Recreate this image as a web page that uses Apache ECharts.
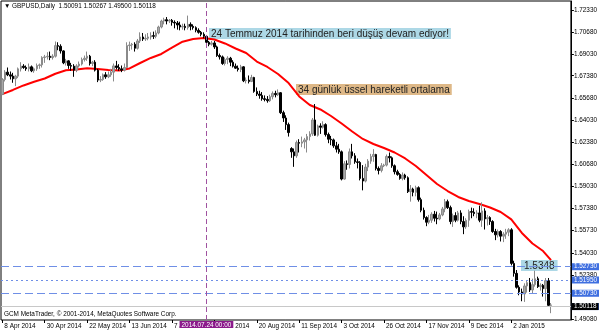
<!DOCTYPE html>
<html><head><meta charset="utf-8">
<script src="https://cdn.jsdelivr.net/npm/echarts@6/dist/echarts.min.js"></script>
<style>html,body{margin:0;padding:0;background:#fff}#c{width:600px;height:333px}</style>
</head><body><div id="c"></div>
<script>
const dates = ['2014.04.08','2014.04.09','2014.04.10','2014.04.11','2014.04.14','2014.04.15','2014.04.16','2014.04.17','2014.04.18','2014.04.21','2014.04.22','2014.04.23','2014.04.24','2014.04.25','2014.04.28','2014.04.29','2014.04.30',
'2014.05.01','2014.05.02','2014.05.05','2014.05.06','2014.05.07','2014.05.08','2014.05.09','2014.05.12','2014.05.13','2014.05.14','2014.05.15','2014.05.16','2014.05.19','2014.05.20','2014.05.21','2014.05.22','2014.05.23','2014.05.26','2014.05.27','2014.05.28','2014.05.29','2014.05.30',
'2014.06.02','2014.06.03','2014.06.04','2014.06.05','2014.06.06','2014.06.09','2014.06.10','2014.06.11','2014.06.12','2014.06.13','2014.06.16','2014.06.17','2014.06.18','2014.06.19','2014.06.20','2014.06.23','2014.06.24','2014.06.25','2014.06.26','2014.06.27','2014.06.30',
'2014.07.01','2014.07.02','2014.07.03','2014.07.04','2014.07.07','2014.07.08','2014.07.09','2014.07.10','2014.07.11','2014.07.14','2014.07.15','2014.07.16','2014.07.17','2014.07.18','2014.07.21','2014.07.22','2014.07.23','2014.07.24','2014.07.25','2014.07.28','2014.07.29','2014.07.30','2014.07.31',
'2014.08.01','2014.08.04','2014.08.05','2014.08.06','2014.08.07','2014.08.08','2014.08.11','2014.08.12','2014.08.13','2014.08.14','2014.08.15','2014.08.18','2014.08.19','2014.08.20','2014.08.21','2014.08.22','2014.08.25','2014.08.26','2014.08.27','2014.08.28','2014.08.29',
'2014.09.01','2014.09.02','2014.09.03','2014.09.04','2014.09.05','2014.09.08','2014.09.09','2014.09.10','2014.09.11','2014.09.12','2014.09.15','2014.09.16','2014.09.17','2014.09.18','2014.09.19','2014.09.22','2014.09.23','2014.09.24','2014.09.25','2014.09.26','2014.09.29','2014.09.30',
'2014.10.01','2014.10.02','2014.10.03','2014.10.06','2014.10.07','2014.10.08','2014.10.09','2014.10.10','2014.10.13','2014.10.14','2014.10.15','2014.10.16','2014.10.17','2014.10.20','2014.10.21','2014.10.22','2014.10.23','2014.10.24','2014.10.26','2014.10.27','2014.10.28','2014.10.29','2014.10.30','2014.10.31',
'2014.11.03','2014.11.04','2014.11.05','2014.11.06','2014.11.07','2014.11.10','2014.11.11','2014.11.12','2014.11.13','2014.11.14','2014.11.17','2014.11.18','2014.11.19','2014.11.20','2014.11.21','2014.11.24','2014.11.25','2014.11.26','2014.11.27','2014.11.28',
'2014.12.01','2014.12.02','2014.12.03','2014.12.04','2014.12.05','2014.12.08','2014.12.09','2014.12.10','2014.12.11','2014.12.12','2014.12.15','2014.12.16','2014.12.17','2014.12.18','2014.12.19','2014.12.22','2014.12.23','2014.12.24','2014.12.26','2014.12.29','2014.12.30','2014.12.31',
'2015.01.02','2015.01.05','2015.01.06','2015.01.07','2015.01.08','2015.01.09','2015.01.12','2015.01.13','2015.01.14','2015.01.15','2015.01.16','2015.01.19','2015.01.20','2015.01.21','2015.01.22','2015.01.23'];

const opens = [1.6598,1.6710,1.6765,1.6745,1.6735,1.6715,1.6735,1.6790,1.6810,1.6800,1.6790,1.6805,1.6775,1.6790,1.6815,1.6820,1.6875,
1.6880,1.6885,1.6875,1.6885,1.6965,1.6960,1.6925,1.6835,1.6850,1.6815,1.6810,1.6780,1.6812,1.6826,1.6860,1.6870,1.6885,1.6830,1.6840,1.6780,1.6705,1.6710,
1.6745,1.6730,1.6745,1.6765,1.6812,1.6800,1.6790,1.6780,1.6800,1.6965,1.6970,1.6975,1.6945,1.7000,1.7030,1.7015,1.7020,1.7030,1.7040,1.7035,1.7060,
1.7105,1.7150,1.7160,1.7150,1.7155,1.7140,1.7135,1.7120,1.7105,1.7110,1.7100,1.7125,1.7110,1.7100,1.7080,1.7065,1.7050,1.7035,1.6990,1.6975,1.6985,1.6955,1.6890,
1.6880,1.6830,1.6860,1.6870,1.6840,1.6810,1.6795,1.6785,1.6805,1.6700,1.6705,1.6695,1.6725,1.6620,1.6600,1.6590,1.6565,1.6560,1.6550,1.6580,1.6605,
1.6595,1.6610,1.6460,1.6420,1.6370,1.6190,1.6165,1.6135,1.6235,1.6230,1.6240,1.6255,1.6280,1.6300,1.6405,1.6290,1.6360,1.6350,1.6370,1.6295,1.6260,1.6255,
1.6210,1.6185,1.6165,1.5960,1.6075,1.6070,1.6165,1.6135,1.6090,1.6085,1.5965,1.5945,1.6050,1.6095,1.6130,1.6145,1.6040,1.6025,1.6060,1.6065,1.6130,1.6120,1.6060,1.6015,
1.5995,1.5965,1.5990,1.5970,1.5865,1.5885,1.5860,1.5895,1.5805,1.5725,1.5670,1.5635,1.5650,1.5695,1.5665,1.5660,1.5690,1.5735,1.5790,1.5745,
1.5640,1.5685,1.5650,1.5705,1.5640,1.5600,1.5650,1.5715,1.5710,1.5700,1.5705,1.5650,1.5720,1.5660,1.5670,1.5640,1.5565,1.5540,1.5565,1.5530,1.5545,1.5560,
1.5578,1.5325,1.5250,1.5145,1.5110,1.5095,1.5155,1.5180,1.5125,1.5165,1.5210,1.5150,1.5160,1.5135,1.5195,1.50091];

const highs = [1.6720,1.6780,1.6800,1.6770,1.6760,1.6745,1.6800,1.6840,1.6825,1.6815,1.6830,1.6815,1.6800,1.6830,1.6830,1.6885,1.6895,
1.6915,1.6920,1.6900,1.6996,1.6990,1.6975,1.6930,1.6865,1.6855,1.6835,1.6825,1.6825,1.6845,1.6875,1.6890,1.6920,1.6895,1.6850,1.6855,1.6790,1.6735,1.6755,
1.6765,1.6770,1.6790,1.6830,1.6850,1.6825,1.6815,1.6830,1.6990,1.6995,1.6985,1.6990,1.7015,1.7065,1.7060,1.7050,1.7060,1.7065,1.7070,1.7080,1.7115,
1.7160,1.7175,1.7180,1.7165,1.7165,1.7155,1.7150,1.7145,1.7130,1.7130,1.7191,1.7140,1.7125,1.7110,1.7095,1.7075,1.7065,1.7045,1.7000,1.7000,1.7000,1.6965,1.6905,
1.6890,1.6875,1.6885,1.6880,1.6855,1.6830,1.6815,1.6820,1.6810,1.6725,1.6740,1.6745,1.6730,1.6650,1.6625,1.6615,1.6590,1.6585,1.6595,1.6620,1.6625,
1.6635,1.6615,1.6475,1.6440,1.6385,1.6200,1.6190,1.6250,1.6260,1.6280,1.6270,1.6300,1.6320,1.6420,1.6525,1.6370,1.6380,1.6395,1.6380,1.6310,1.6285,1.6265,
1.6240,1.6225,1.6175,1.6095,1.6100,1.6190,1.6225,1.6155,1.6115,1.6095,1.6065,1.6075,1.6110,1.6150,1.6185,1.6150,1.6055,1.6080,1.6075,1.6145,1.6160,1.6130,1.6070,1.6030,
1.6005,1.6010,1.6000,1.5980,1.5915,1.5895,1.5910,1.5905,1.5820,1.5745,1.5680,1.5690,1.5710,1.5720,1.5715,1.5705,1.5750,1.5810,1.5805,1.5760,
1.5700,1.5710,1.5720,1.5725,1.5680,1.5665,1.5730,1.5745,1.5740,1.5725,1.5760,1.5785,1.5740,1.5690,1.5680,1.5650,1.5585,1.5580,1.5575,1.5560,1.5585,1.5590,
1.5590,1.5345,1.5275,1.5160,1.5135,1.5175,1.5200,1.5215,1.5210,1.5270,1.5225,1.5175,1.5170,1.5215,1.5215,1.50267];

const lows = [1.6592,1.6695,1.6735,1.6710,1.6685,1.6660,1.6720,1.6770,1.6790,1.6775,1.6770,1.6765,1.6760,1.6775,1.6790,1.6800,1.6835,
1.6860,1.6855,1.6860,1.6875,1.6930,1.6905,1.6825,1.6815,1.6790,1.6775,1.6730,1.6765,1.6800,1.6815,1.6845,1.6850,1.6815,1.6810,1.6770,1.6690,1.6690,1.6700,
1.6715,1.6720,1.6730,1.6695,1.6785,1.6775,1.6765,1.6770,1.6795,1.6925,1.6935,1.6920,1.6935,1.6985,1.7000,1.7000,1.7005,1.7010,1.7015,1.7020,1.7050,
1.7095,1.7125,1.7125,1.7135,1.7115,1.7095,1.7085,1.7080,1.7085,1.7080,1.7085,1.7080,1.7085,1.7065,1.7055,1.7035,1.7020,1.6985,1.6960,1.6965,1.6940,1.6880,1.6860,
1.6820,1.6815,1.6825,1.6810,1.6800,1.6790,1.6770,1.6765,1.6690,1.6680,1.6680,1.6690,1.6610,1.6585,1.6565,1.6550,1.6545,1.6535,1.6540,1.6560,1.6575,
1.6585,1.6450,1.6390,1.6330,1.6280,1.6120,1.6052,1.6120,1.6160,1.6200,1.6190,1.6160,1.6250,1.6285,1.6285,1.6280,1.6300,1.6340,1.6280,1.6230,1.6215,1.6195,
1.6160,1.6150,1.5950,1.5955,1.6030,1.6040,1.6115,1.6075,1.6040,1.5950,1.5875,1.5935,1.6020,1.6075,1.6090,1.6025,1.5995,1.6010,1.6050,1.6055,1.6085,1.6045,1.5995,1.5985,
1.5955,1.5950,1.5955,1.5855,1.5790,1.5830,1.5830,1.5790,1.5710,1.5655,1.5605,1.5620,1.5630,1.5640,1.5620,1.5650,1.5680,1.5710,1.5735,1.5620,
1.5600,1.5635,1.5640,1.5620,1.5545,1.5585,1.5600,1.5665,1.5680,1.5665,1.5635,1.5600,1.5580,1.5610,1.5615,1.5555,1.5500,1.5520,1.5490,1.5485,1.5510,1.5530,
1.5310,1.5225,1.5135,1.5085,1.5040,1.5035,1.5105,1.5110,1.5100,1.5150,1.5140,1.5120,1.5075,1.5040,1.4998,1.4950];

const closes = [1.6710,1.6765,1.6745,1.6735,1.6715,1.6735,1.6790,1.6810,1.6800,1.6790,1.6805,1.6775,1.6790,1.6815,1.6820,1.6875,1.6880,
1.6885,1.6875,1.6885,1.6965,1.6960,1.6925,1.6835,1.6850,1.6815,1.6810,1.6780,1.6812,1.6826,1.6860,1.6870,1.6885,1.6830,1.6840,1.6780,1.6705,1.6710,1.6745,
1.6730,1.6745,1.6765,1.6812,1.6800,1.6790,1.6780,1.6800,1.6965,1.6970,1.6975,1.6945,1.7000,1.7030,1.7015,1.7020,1.7030,1.7040,1.7035,1.7060,1.7105,
1.7150,1.7160,1.7150,1.7155,1.7140,1.7135,1.7120,1.7105,1.7110,1.7100,1.7125,1.7110,1.7100,1.7080,1.7065,1.7050,1.7035,1.6990,1.6975,1.6985,1.6955,1.6890,1.6880,
1.6830,1.6860,1.6870,1.6840,1.6810,1.6795,1.6785,1.6805,1.6700,1.6705,1.6695,1.6725,1.6620,1.6600,1.6590,1.6565,1.6560,1.6550,1.6580,1.6605,1.6595,
1.6610,1.6460,1.6420,1.6370,1.6310,1.6165,1.6135,1.6235,1.6230,1.6240,1.6255,1.6280,1.6300,1.6405,1.6290,1.6360,1.6350,1.6370,1.6295,1.6260,1.6255,1.6210,
1.6185,1.6165,1.5960,1.6075,1.6070,1.6165,1.6135,1.6090,1.6085,1.5965,1.5945,1.6050,1.6095,1.6130,1.6145,1.6040,1.6025,1.6060,1.6065,1.6130,1.6120,1.6060,1.6015,1.5995,
1.5965,1.5990,1.5970,1.5865,1.5885,1.5860,1.5895,1.5805,1.5725,1.5670,1.5635,1.5650,1.5695,1.5665,1.5660,1.5690,1.5735,1.5790,1.5745,1.5640,
1.5685,1.5650,1.5705,1.5640,1.5600,1.5650,1.5715,1.5710,1.5700,1.5705,1.5650,1.5720,1.5660,1.5670,1.5640,1.5565,1.5540,1.5565,1.5530,1.5545,1.5560,1.5578,
1.5325,1.5250,1.5145,1.5110,1.5095,1.5155,1.5180,1.5125,1.5165,1.5210,1.5150,1.5160,1.5135,1.5195,1.5009,1.50118];

// 34-day EMA at every 4th bar
const emaIdx  = [0,4,8,12,16,20,24,28,32,36,40,44,48,52,56,60,64,68,72,76,80,84,88,92,96,100,104,108,112,116,120,124,128,132,136,140,144,148,152,156,160,164,168,172,176,180,184,188,192,196,200,204,207];
const emaVals = [1.6600,1.6631,1.6665,1.6693,1.6717,1.6753,1.6779,1.6785,1.6794,1.6789,1.6781,1.6777,1.6793,1.6834,1.6872,1.6902,1.6949,1.6994,1.7015,1.7022,1.7011,1.6981,1.6943,1.6909,1.6845,1.6804,1.6751,1.6683,1.6582,1.6518,1.6484,1.6435,1.6378,1.6318,1.6262,1.6224,1.6194,1.6160,1.6115,1.6058,1.5991,1.5923,1.5870,1.5825,1.5795,1.5772,1.5746,1.5712,1.5656,1.5554,1.5475,1.5418,1.5350];

const yTicks = [1.72330,1.70680,1.69030,1.67380,1.65680,1.64030,1.62380,1.60680,1.59030,1.57380,1.55730,1.54030,1.52380,1.49080];
const priceLevels = [1.52730,1.51950,1.50730,1.49600];
const bidPrice = 1.50118;
const vlineDate = '2014.07.24';
const emaLabel = '1.5348';
const symbolTitle = 'GBPUSD,Daily';
const note1 = '24 Temmuz 2014 tarihinden beri düşüş devam ediyor!';
const note2 = '34 günlük üssel hareketli ortalama';
const copyright = 'GCM MetaTrader, © 2001-2014, MetaQuotes Software Corp.';

const MON = ['Jan','Feb','Mar','Apr','May','Jun','Jul','Aug','Sep','Oct','Nov','Dec'];
const fmtDate = s => { const p = s.split('.'); return (+p[2]) + ' ' + MON[+p[1]-1] + ' ' + p[0]; };
const N_PAD = 7;
const xCats = dates.concat(Array.from({length: N_PAD}, (_, k) => 'pad' + k));
const candles = dates.map((d, i) => [opens[i], closes[i], lows[i], highs[i]]);
const emaLine = xCats.map(() => null);
emaIdx.forEach((ix, k) => { emaLine[ix] = emaVals[k]; });
const showIdx = (i) => i % 16 === 0 && i < dates.length;
const last = dates.length - 1;
const FONT = 'Liberation Sans, Arial, sans-serif';
const AX = 6.4;

const chart = echarts.init(document.getElementById('c'), null, {renderer: 'canvas'});
const lvlStyles = [
  {type: [8, 4], color: '#6f8fe6'},
  {type: [2, 3], color: '#6f8fe6'},
  {type: [8, 4], color: '#6f8fe6'},
  {type: [2, 2], color: '#9fb6f0'}
];
const mlData = priceLevels.map((v, k) => ({
  yAxis: v,
  lineStyle: Object.assign({width: 1}, lvlStyles[k]),
  label: {show: true, position: 'end', distance: 1, formatter: () => v.toFixed(5),
    backgroundColor: '#3f6fe0', color: '#fff', fontSize: AX, fontFamily: FONT, padding: [1, 2, 0, 2]}
}));
mlData.push({
  yAxis: bidPrice,
  lineStyle: {type: 'solid', color: '#c8c8c8', width: 1},
  label: {show: true, position: 'end', distance: 1, formatter: () => bidPrice.toFixed(5),
    backgroundColor: '#000', color: '#fff', fontSize: AX, fontFamily: FONT, padding: [1, 2, 0, 2]}
});
mlData.push({
  xAxis: vlineDate,
  lineStyle: {type: [5, 3], color: '#a052a0', width: 1},
  label: {show: true, position: 'start', distance: 1, formatter: () => vlineDate + ' 00:00',
    backgroundColor: '#8b1a8b', color: '#fff', fontSize: AX, fontFamily: FONT, padding: [1, 2, 0, 2]}
});

chart.setOption({
  animation: false,
  backgroundColor: '#fff',
  grid: {left: 1, top: 1, width: 571, height: 319, show: true, borderColor: '#000', borderWidth: 1, backgroundColor: 'transparent'},
  xAxis: {
    type: 'category', data: xCats, boundaryGap: true,
    axisLine: {show: false},
    axisTick: {show: true, interval: showIdx, alignWithLabel: true, length: 3, lineStyle: {color: '#000'}},
    axisLabel: {interval: showIdx, formatter: fmtDate, align: 'left', fontSize: AX, color: '#000', margin: 3, fontFamily: FONT, padding: [0, 0, 0, 2]},
    splitLine: {show: false}
  },
  yAxis: {
    type: 'value', position: 'right', min: 1.48987, max: 1.73008, scale: true,
    axisLine: {show: true, lineStyle: {color: '#000'}},
    axisTick: {show: true, customValues: yTicks, length: 3, lineStyle: {color: '#000'}},
    axisLabel: {customValues: yTicks, formatter: v => v.toFixed(5), fontSize: AX, color: '#000', margin: 3, fontFamily: FONT},
    splitLine: {show: false}
  },
  series: [
    {
      type: 'line', data: emaLine, connectNulls: true, showSymbol: false, symbol: 'none',
      lineStyle: {color: '#ff0000', width: 2}, z: 2, silent: true
    },
    {
      type: 'candlestick', data: candles, barWidth: 2, z: 3,
      itemStyle: {color: '#a8a8a8', color0: '#000000', borderColor: '#8a8a8a', borderColor0: '#000000', borderWidth: 1},
      markLine: {symbol: ['none', 'none'], silent: true, animation: false, data: mlData}
    }
  ],
  graphic: [
    {type: 'text', left: 4, top: 3, style: {text: '▼ ' + symbolTitle + '  ' + [opens[last], highs[last], lows[last], closes[last]].map(v => v.toFixed(5)).join(' '), fontSize: AX, fontFamily: FONT, fill: '#000'}},
    {type: 'text', left: 209, top: 28, style: {text: note1, fontSize: 10, fontFamily: FONT, fill: '#222', backgroundColor: '#add8e6', padding: [1, 2, 0, 2]}},
    {type: 'text', left: 296, top: 84, style: {text: note2, fontSize: 10, fontFamily: FONT, fill: '#222', backgroundColor: '#deb887', padding: [1, 2, 0, 2]}},
    {type: 'text', left: 521, top: 260, style: {text: emaLabel, fontSize: 10, fontFamily: FONT, fill: '#222', backgroundColor: '#add8e6', padding: [1, 3, 0, 3]}},
    {type: 'text', left: 4, top: 311, style: {text: copyright, fontSize: AX, fontFamily: FONT, fill: '#000'}}
  ]
});
</script>
</body></html>
